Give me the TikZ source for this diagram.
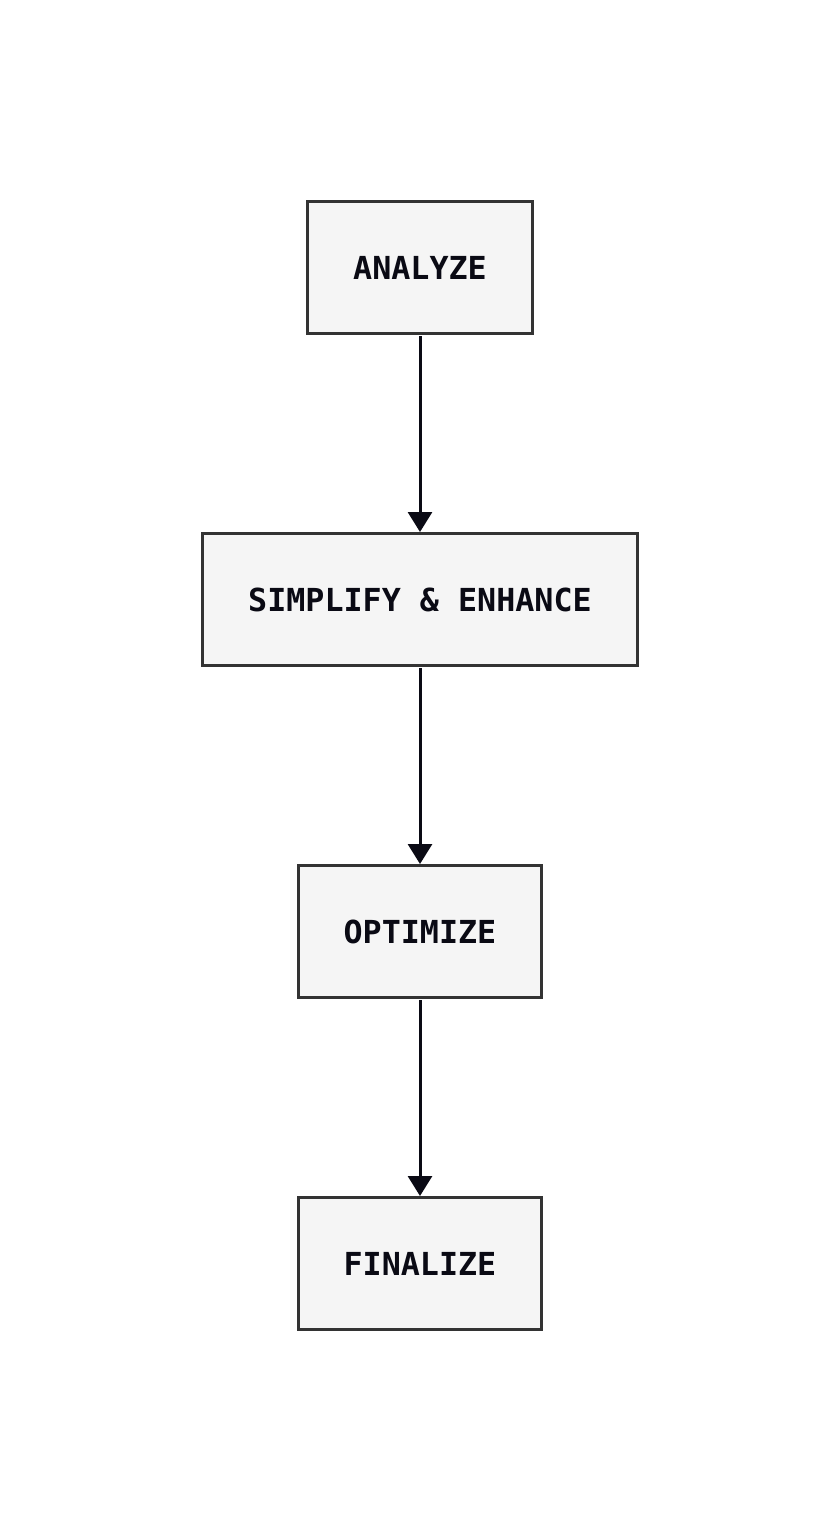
\documentclass[tikz,border=0pt]{standalone}
\usepackage{fontspec}
\setmonofont{DejaVu Sans Mono}
\usetikzlibrary{positioning,arrows.meta}
\definecolor{boxfill}{HTML}{F5F5F5}
\definecolor{boxline}{HTML}{333333}
\definecolor{inkdark}{HTML}{0A0A14}
\begin{document}
\begin{tikzpicture}[
    %–––– GLOBAL STYLE TWEAKS ––––
    font=\ttfamily\bfseries\fontsize{31.7}{38}\selectfont,
    >={Triangle[width=24pt,length=20pt]},
    node distance = 197pt,                           % gap between boxes
    stage/.style = {rectangle, draw=boxline, line width=3pt,
                    fill=boxfill, text=inkdark, align=center,
                    minimum height=132pt,
                    inner xsep=45.5pt, inner ysep=0pt},
    arrow/.style = {->, line width=3pt, draw=inkdark, shorten <=1pt},
]
\useasboundingbox (0,0) rectangle (840pt,-1532pt);
%–––– MAIN FLOW ––––
\node (analyze)  [stage] at (420pt,-267.5pt) {ANALYZE};

\node (simplify) [stage, below=of analyze]  {SIMPLIFY \& ENHANCE};

\node (optimize) [stage, below=of simplify] {OPTIMIZE};

\node (finalize) [stage, below=of optimize] {FINALIZE};

%–––– ARROWS ––––
\foreach \a/\b in {analyze/simplify, simplify/optimize, optimize/finalize}
  \draw[arrow] (\a) -- (\b);
\end{tikzpicture}
\end{document}
